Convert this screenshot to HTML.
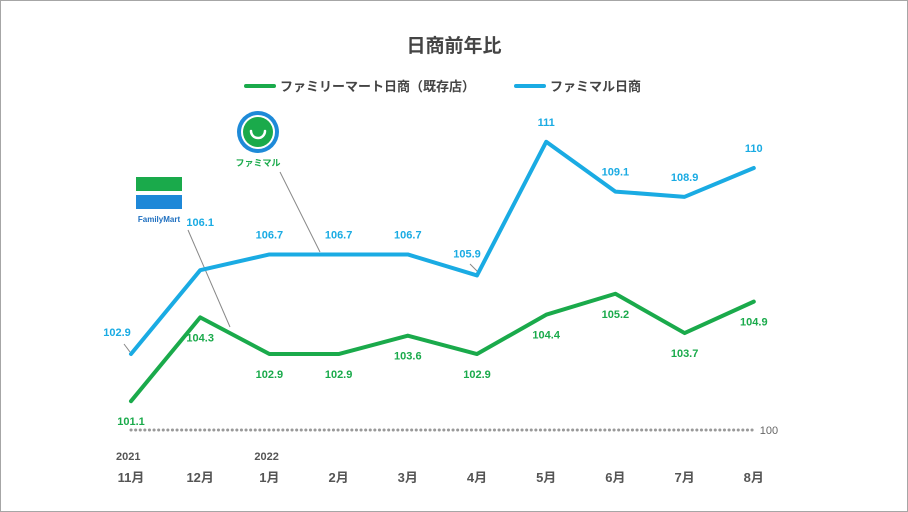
<!DOCTYPE html>
<html><head><meta charset="utf-8"><style>
html,body{margin:0;padding:0;background:#fff}
svg{display:block;font-family:"Liberation Sans","Noto Sans CJK JP",sans-serif}
</style></head><body>
<svg id="c" width="908" height="512" viewBox="0 0 908 512">
<rect x="0.5" y="0.5" width="907" height="511" fill="#fff" stroke="#a6a6a6"/>
<text x="454" y="52" text-anchor="middle" font-size="19" font-weight="bold" fill="#444">日商前年比</text>
<g>
<line x1="246" y1="86" x2="274" y2="86" stroke="#1aaa4b" stroke-width="4" stroke-linecap="round"/>
<text x="280" y="91" font-size="13" font-weight="bold" fill="#444">ファミリーマート日商（既存店）</text></g>
<g>
<line x1="516" y1="86" x2="544" y2="86" stroke="#1aabe3" stroke-width="4" stroke-linecap="round"/>
<text x="550" y="91" font-size="13" font-weight="bold" fill="#444">ファミマル日商</text></g>
<g>
<rect x="136" y="177" width="46" height="14" fill="#1aaa4b"/>
<rect x="136" y="195" width="46" height="14" fill="#1e88d8"/>
<text x="159" y="222" text-anchor="middle" font-size="8" font-weight="bold" fill="#1e6fc0">FamilyMart</text></g>
<g>
<circle cx="258" cy="132" r="21" fill="#1e8ad8"/>
<circle cx="258" cy="132" r="17" fill="#fff"/>
<circle cx="258" cy="132" r="15" fill="#1aaa4b"/>
<path d="M251 131 A7 7 0 0 0 265 131" stroke="#fff" stroke-width="2.5" fill="none" stroke-linecap="round"/>
<text x="258" y="166" text-anchor="middle" font-size="9" font-weight="bold" fill="#1aaa4b">ファミマル</text></g>
<line x1="188" y1="230" x2="230" y2="327" stroke="#888" stroke-width="1"/>
<line x1="280" y1="172" x2="320" y2="252" stroke="#888" stroke-width="1"/>
<line x1="124" y1="344" x2="130" y2="352" stroke="#888" stroke-width="1"/>
<line x1="470" y1="264" x2="478" y2="272" stroke="#888" stroke-width="1"/>
<g id="plot"></g>
</svg>
<script>
const months=["11月","12月","1月","2月","3月","4月","5月","6月","7月","8月"];
const years=["2021","","2022","","","","","","",""];
const fmValues=[101.1,104.3,102.9,102.9,103.6,102.9,104.4,105.2,103.7,104.9];
const fmLabels=["101.1","104.3","102.9","102.9","103.6","102.9","104.4","105.2","103.7","104.9"];
const fmaruValues=[102.9,106.1,106.7,106.7,106.7,105.9,111,109.1,108.9,110];
const fmaruLabels=["102.9","106.1","106.7","106.7","106.7","105.9","111","109.1","108.9","110"];
const baseline=100;
const NS="http://www.w3.org/2000/svg";
const g=document.getElementById('plot');
const x=i=>131+i*69.2;
const y=v=>430-(v-100)*26.2;
function mk(t,a){const e=document.createElementNS(NS,t);for(const k in a)e.setAttribute(k,a[k]);g.appendChild(e);return e;}
const bl=mk('line',{x1:x(0),x2:x(9),y1:y(baseline),y2:y(baseline),stroke:'#999','stroke-width':3,'stroke-dasharray':'0.1 4.5','stroke-linecap':'round'});


const blt=mk('text',{x:x(9)+6,y:y(baseline)+4,'font-size':11,fill:'#666'});blt.textContent='100';


months.forEach((m,i)=>{
 const t=mk('text',{x:x(i),y:482,'text-anchor':'middle','font-size':13,'font-weight':'bold',fill:'#555'});t.textContent=m;
 
 
 if(years[i]){const yt=mk('text',{x:x(i)-15,y:460,'font-size':11,'font-weight':'bold',fill:'#555'});yt.textContent=years[i];
 
 }
});
function series(vals,col,name){
 const p=mk('polyline',{points:vals.map((v,i)=>x(i)+','+y(v)).join(' '),fill:'none',stroke:col,'stroke-width':4,'stroke-linejoin':'round','stroke-linecap':'round'});
 
 
}
series(fmaruValues,'#1aabe3','famimaru-line');
series(fmValues,'#1aaa4b','familymart-line');
fmValues.forEach((v,i)=>{const t=mk('text',{x:x(i),y:y(v)+24,'text-anchor':'middle','font-size':11,'font-weight':'bold',fill:'#1aaa4b'});t.textContent=fmLabels[i];
 
 });
fmaruValues.forEach((v,i)=>{let dx=0,dy=-16;if(i==0){dx=-14;dy=-18;}if(i==1){dy=-44;}if(i==5){dx=-10;dy=-18;}
 const t=mk('text',{x:x(i)+dx,y:y(v)+dy,'text-anchor':'middle','font-size':11,'font-weight':'bold',fill:'#1aabe3'});t.textContent=fmaruLabels[i];
 
 });
</script>
</body></html>
